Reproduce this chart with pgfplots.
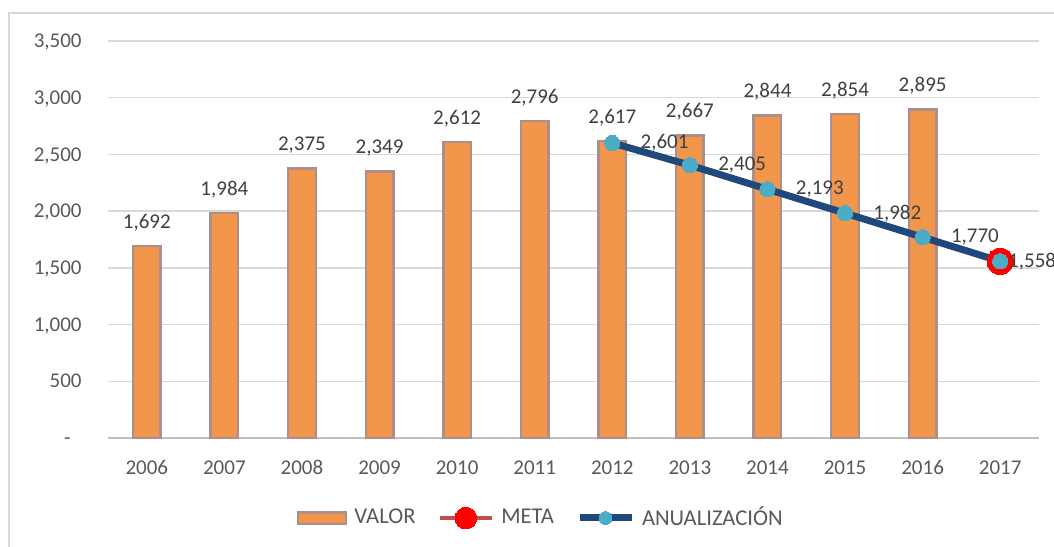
\documentclass[border=0pt]{standalone}
\usepackage{fontspec}
\setmainfont{Carlito}
\usepackage{pgfplots}
\pgfplotsset{compat=1.18}

\definecolor{barOrange}{HTML}{F2964B}
\definecolor{barEdge}{HTML}{9A8C9E}
\definecolor{lineBlue}{HTML}{1F497D}
\definecolor{markBlue}{HTML}{4BACC6}
\definecolor{metaLine}{HTML}{C0504D}
\definecolor{tickGray}{HTML}{595959}
\definecolor{labelGray}{HTML}{404040}
\definecolor{gridGray}{HTML}{D9D9D9}
\definecolor{axisGray}{HTML}{BFBFBF}

\pgfdeclarehorizontalshading{barshade}{100bp}{color(0bp)=(barEdge); color(25bp)=(barEdge); color(35bp)=(barOrange); color(65bp)=(barOrange); color(75bp)=(barEdge); color(100bp)=(barEdge)}

\newcommand\chartfont{\fontsize{10.5}{12.6}\selectfont}
\newcommand\legendfont{\fontsize{11.3}{13.5}\selectfont}

\pgfplotsset{
    linelegend/.style={legend image code/.code={\draw[##1, mark size=#1, mark repeat=2, mark phase=2] plot coordinates {(0pt,0pt) (13pt,0pt) (26pt,0pt)};}},
}

\begin{document}
\begin{tikzpicture}
\useasboundingbox (0,0) rectangle (527pt,273pt);
% chart frame (cut off at right and bottom in the reference)
\draw[gridGray, line width=0.75pt] (4.5pt,-10pt) -- (4.5pt,266.5pt) -- (560pt,266.5pt);

\begin{axis}[
    at={(54pt,54pt)}, anchor=south west,
    scale only axis,
    width=465.5pt, height=198.5pt,
    xmin=-0.5, xmax=11.5,
    ymin=0, ymax=3500,
    clip=false,
    axis line style={draw=none},
    major tick length=0pt,
    xtick={0,...,11},
    xticklabels={2006,2007,2008,2009,2010,2011,2012,2013,2014,2015,2016,2017},
    ytick={0,500,...,3500},
    yticklabels={-\kern5.5pt,500,{1,000},{1,500},{2,000},{2,500},{3,000},{3,500}},
    ymajorgrids,
    major grid style={gridGray, line width=0.75pt},
    xticklabel style={font=\chartfont, text=tickGray, anchor=base, inner sep=0pt, yshift=-18.5pt},
    yticklabel style={font=\chartfont, text=tickGray, anchor=base east, inner sep=0pt, xshift=-13pt, yshift=-3.3pt},
    /pgf/number format/.cd, 1000 sep={,}, assume math mode=true,
    /pgfplots/.cd,
    legend columns=3,
    legend style={at={(0.466,-0.2015)}, anchor=center, draw=none, fill=none,
        font=\legendfont, text=tickGray,
        /tikz/every odd column/.append style={column sep=1.5pt},
        /tikz/every even column/.append style={column sep=9pt}},
]
\draw[axisGray, line width=1.1pt] (axis cs:-0.5,0) -- (axis cs:11.5,0);

% VALOR
\addplot[ybar, bar width=13.8pt, fill=barOrange, draw=barEdge!80!barOrange, line width=1.2pt,
    nodes near coords,
    every node near coord/.append style={font=\chartfont, text=labelGray, anchor=south, inner sep=0pt, yshift=6.9pt},
    legend image code/.code={\shade[shading=barshade, shading angle=90] (0pt,-3pt) rectangle (24pt,3pt);}]
coordinates {(0,1692) (1,1984) (2,2375) (3,2349) (4,2612) (5,2796) (6,2617) (7,2667) (8,2844) (9,2854) (10,2895)};
\addlegendentry{VALOR}

% META
\addplot[metaLine, line width=2.4pt, mark=*, mark size=6.6pt, mark options={fill=red, draw=red, line width=0pt},
    nodes near coords,
    every node near coord/.append style={font=\chartfont, text=labelGray, anchor=west, inner sep=0pt, xshift=4pt},
    linelegend=5.4pt]
coordinates {(11,1558)};
\addlegendentry{META}

% ANUALIZACION
\addplot[lineBlue, line width=3.5pt, mark=*, mark size=3.8pt, mark options={fill=markBlue, draw=markBlue, line width=0pt},
    linelegend=3.2pt]
coordinates {(6,2601) (7,2405) (8,2193) (9,1982) (10,1770) (11,1558)};
\addlegendentry{ANUALIZACIÓN}

% labels of ANUALIZACION
\addplot[draw=none, mark=none, forget plot,
    nodes near coords,
    every node near coord/.append style={font=\chartfont, text=labelGray, anchor=west, inner sep=0pt, xshift=14pt}]
coordinates {(6,2601) (7,2405) (8,2193) (9,1982) (10,1770)};
\end{axis}
\end{tikzpicture}
\end{document}
